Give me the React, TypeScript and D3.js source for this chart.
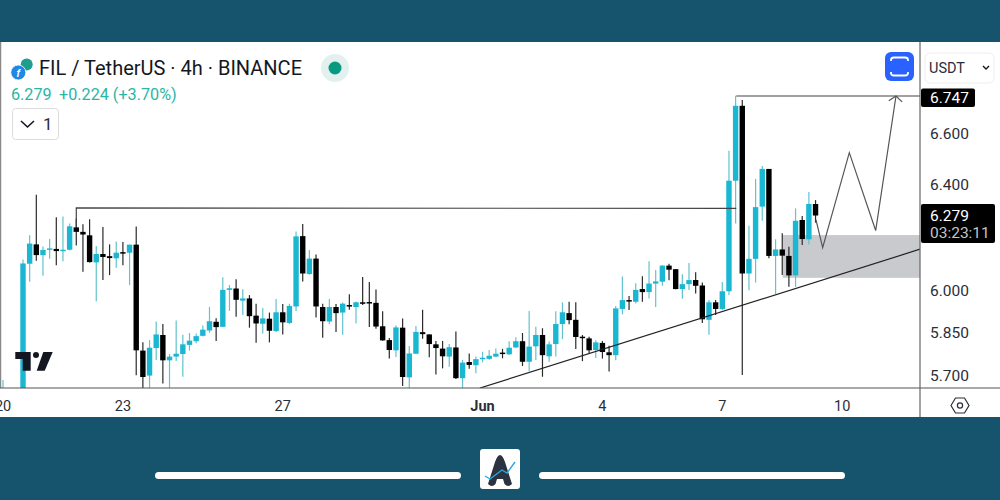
import React from "react";
import * as d3 from "d3";

const firstIndex = -3;
const opens = [5.6,5.6,5.61,
5.638,6.098,6.170,6.130,6.150,6.153,6.145,6.150,6.234,6.217,
6.204,6.103,6.134,6.126,6.118,6.141,6.139,6.169,5.785,5.698,
5.794,5.840,5.751,5.764,5.773,5.805,5.818,5.837,5.856,5.887,
5.869,6.002,6.007,5.963,5.971,5.909,5.880,5.898,5.854,5.921,
5.883,5.942,6.201,6.060,6.117,5.940,5.888,5.940,5.920,5.947,
5.940,5.957,5.958,5.955,5.871,5.822,5.786,5.866,5.692,5.774,
5.850,5.842,5.807,5.792,5.764,5.796,5.689,5.745,5.734,5.756,
5.756,5.764,5.778,5.772,5.796,5.818,5.746,5.800,5.840,5.765,
5.808,5.879,5.918,5.894,5.834,5.828,5.787,5.812,5.779,5.769,
5.933,5.965,5.959,6.005,5.994,6.025,6.032,6.091,6.078,6.005,
6.023,6.038,6.018,5.894,5.957,5.933,5.997,6.413,6.711,6.062,
6.116,6.313,6.459,6.127,6.151,6.127,6.055,6.262,6.189,6.323];
const closes = [5.615,5.61,5.6,
6.099,6.173,6.130,6.149,6.155,6.145,6.150,6.238,6.217,6.207,
6.104,6.134,6.123,6.119,6.139,6.139,6.169,5.786,5.693,5.795,
5.842,5.751,5.764,5.774,5.807,5.820,5.836,5.859,5.889,5.868,
6.002,6.008,5.966,5.971,5.907,5.881,5.899,5.855,5.921,5.885,
5.944,6.200,6.062,6.117,5.942,5.889,5.940,5.918,5.952,5.943,
5.957,5.953,5.956,5.870,5.821,5.787,5.867,5.693,5.775,5.851,
5.843,5.808,5.794,5.765,5.797,5.689,5.743,5.735,5.755,5.760,
5.767,5.774,5.774,5.795,5.818,5.746,5.799,5.840,5.769,5.807,
5.879,5.921,5.893,5.833,5.829,5.786,5.814,5.780,5.769,5.935,
5.965,5.963,6.002,5.994,6.025,6.033,6.091,6.076,6.005,6.023,
6.038,6.017,5.896,5.957,5.933,5.997,6.413,6.711,6.062,6.116,
6.311,6.459,6.127,6.151,6.128,6.055,6.259,6.190,6.323,6.279];
const highs = [5.683,5.62,5.62,
6.114,6.204,6.359,6.162,6.190,6.272,6.275,6.249,6.268,6.246,
6.265,6.164,6.235,6.170,6.181,6.179,6.169,6.237,5.814,5.822,
5.888,5.879,5.773,5.892,5.841,5.847,5.845,5.874,5.940,5.900,
6.048,6.020,6.041,6.004,5.983,5.952,5.936,5.920,5.969,5.951,
5.952,6.218,6.247,6.149,6.132,5.952,5.969,5.951,5.956,5.986,
5.960,6.049,6.031,6.003,5.925,5.829,5.875,5.899,5.801,5.872,
5.930,5.843,5.819,5.819,5.808,5.852,5.752,5.775,5.764,5.781,
5.787,5.792,5.791,5.818,5.832,5.847,5.926,5.869,5.864,5.817,
5.925,5.957,5.959,5.957,5.840,5.834,5.821,5.819,5.802,5.944,
6.051,5.980,6.026,6.052,6.107,6.075,6.093,6.098,6.078,6.059,
6.101,6.067,6.029,5.965,5.965,6.031,6.531,6.752,6.735,6.240,
6.420,6.470,6.459,6.189,6.212,6.161,6.306,6.277,6.369,6.338];
const lows = [5.58,5.58,5.58,
5.62,6.032,6.109,6.054,6.116,6.092,6.107,6.147,6.166,6.068,
6.103,5.961,6.038,6.056,6.083,6.092,6.020,5.699,5.637,5.637,
5.752,5.671,5.637,5.749,5.694,5.785,5.811,5.835,5.848,5.819,
5.868,5.926,5.905,5.911,5.866,5.813,5.845,5.814,5.851,5.842,
5.879,5.926,6.033,6.057,5.902,5.830,5.879,5.851,5.841,5.930,
5.881,5.947,5.868,5.862,5.820,5.757,5.763,5.662,5.648,5.773,
5.827,5.762,5.702,5.723,5.729,5.686,5.648,5.722,5.706,5.744,
5.753,5.762,5.758,5.770,5.794,5.731,5.713,5.752,5.694,5.746,
5.764,5.825,5.878,5.791,5.748,5.775,5.759,5.757,5.712,5.751,
5.914,5.929,5.953,5.959,5.971,5.940,6.017,6.037,6.004,5.970,
6.002,5.989,5.883,5.841,5.911,5.929,5.983,6.249,5.700,6.001,
6.029,6.259,6.118,5.987,6.056,6.013,6.013,6.168,6.170,6.252];

const priceTicks = [6.6, 6.4, 6.0, 5.85, 5.7];
const priceTickLabels = ["6.600", "6.400", "6.000", "5.850", "5.700"];
const timeTickIndex = [-3, 15, 39, 69, 87, 105, 123];
const timeTickLabels = ["20", "23", "27", "Jun", "4", "7", "10"];

const trendLine: [number, number][] = [[68.6, 5.655], [134.7, 6.152]];
const topLine: [number, number][] = [[107.1, 6.751], [134.7, 6.751]];
const resistance: [number, number][] = [[8, 6.235], [8, 6.308], [107.1, 6.306]];
const zigzag: [number, number][] = [[119.07, 6.262], [120.07, 6.158], [124.07, 6.523], [128.03, 6.222], [131.08, 6.751]];
const arrowHead: [number, number][] = [[130, 6.732], [131.08, 6.751], [132, 6.727]];
const zoneIdx = [114.07, 134.7];
const zonePrice = [6.205, 6.046];

const BAND = "#15546c";
const UP = "#1ab7d2";
const UPWICK = "#62c2cd";
const DOWN = "#000000";
const DOWNWICK = "#2a2a2a";
const FONT = "Roboto, sans-serif";

const x = d3.scaleLinear().domain([0, 100]).range([23, 689]);
const y = d3.scaleLog().domain([5.7, 6.747]).range([375, 97]);
const line = d3.line<[number, number]>().x((d) => x(d[0])).y((d) => y(d[1]));

export default function App() {
  return (
    <svg width={1000} height={500} style={{ position: "absolute", left: 0, top: 0, display: "block" }} fontFamily={FONT}>
      <defs>
        <clipPath id="plot"><rect x={1} y={42} width={919} height={346} /></clipPath>
      </defs>
      <rect width={1000} height={500} fill="#fff" />

      <g clipPath="url(#plot)">
        <rect x={x(zoneIdx[0])} width={x(zoneIdx[1]) - x(zoneIdx[0])} y={y(zonePrice[0])} height={y(zonePrice[1]) - y(zonePrice[0])} fill="#c9cacd" />
        {opens.map((o, k) => {
          const c = closes[k];
          const up = c >= o;
          const cx = x(k + firstIndex);
          const top = y(Math.max(o, c));
          const bot = y(Math.min(o, c));
          return (
            <g key={k}>
              <line x1={cx} x2={cx} y1={y(highs[k])} y2={y(lows[k])} stroke={up ? UPWICK : DOWNWICK} strokeWidth={1.2} />
              <rect x={cx - 2.7} width={5.4} y={top} height={Math.max(bot - top, 1.5)} fill={up ? UP : DOWN} />
            </g>
          );
        })}
        <path d={line(trendLine)!} fill="none" stroke="#222" strokeWidth={1.2} />
        <path d={line(topLine)!} fill="none" stroke="#444" strokeWidth={1.2} />
        <path d={line(resistance)!} fill="none" stroke="#444" strokeWidth={1.2} />
        <path d={line(zigzag)!} fill="none" stroke="#555" strokeWidth={1.2} />
        <path d={line(arrowHead)!} fill="none" stroke="#555" strokeWidth={1.2} />
      </g>

      <line x1={0.5} x2={0.5} y1={42} y2={388} stroke="#8a8a8a" strokeWidth={1.5} />
      <line x1={0} x2={1000} y1={388} y2={388} stroke="#555" strokeWidth={1.2} />
      <line x1={920} x2={920} y1={42} y2={417} stroke="#666" strokeWidth={1.2} />

      {priceTicks.map((t, i) => (
        <text key={t} x={930} y={y(t) + 5.5} fontSize={15.5} fill="#2a2e39">{priceTickLabels[i]}</text>
      ))}
      <rect x={921} y={88.5} width={54} height={18.5} rx={2} fill="#000" />
      <text x={930} y={102.5} fontSize={15.5} fill="#fff">6.747</text>
      <rect x={921} y={204} width={74} height={39} rx={2} fill="#000" />
      <text x={930} y={221} fontSize={15.5} fill="#fff">6.279</text>
      <text x={930} y={238} fontSize={15.5} fill="#c4c4c4">03:23:11</text>

      {timeTickIndex.map((t, i) => (
        <text key={t} x={x(t)} y={411} fontSize={14.5} textAnchor="middle" fill="#2a2e39" fontWeight={timeTickLabels[i] === "Jun" ? 700 : 400}>{timeTickLabels[i]}</text>
      ))}
      <path d="M951 405.5 L955.5 398 H964.5 L969 405.5 L964.5 413 H955.5 Z" fill="none" stroke="#2a2e39" strokeWidth={1.2} />
      <circle cx={960} cy={405.5} r={2.6} fill="none" stroke="#2a2e39" strokeWidth={1.2} />

      <circle cx={26.7} cy={64.5} r={6} fill="#1f9d8f" />
      <circle cx={18.3} cy={72.5} r={7.5} fill="#1e88e5" stroke="#fff" strokeWidth={0.8} />
      <text x={18.3} y={76.5} fontSize={10} fontStyle="italic" fontWeight={700} textAnchor="middle" fill="#fff">f</text>
      <text x={39} y={75} fontSize={20} fill="#131722">FIL / TetherUS · 4h · BINANCE</text>
      <circle cx={335} cy={68} r={14} fill="#e2f1ef" />
      <circle cx={335} cy={68} r={6.5} fill="#089981" />
      <text x={11} y={100} fontSize={16.2} fill="#2cb5a5">6.279</text>
      <text x={59} y={100} fontSize={16.2} fill="#2cb5a5">+0.224 (+3.70%)</text>
      <rect x={12.5} y={108.5} width={46} height={31} rx={3} fill="#fff" stroke="#dcdcdc" strokeWidth={1} />
      <path d="M21 121 L27.5 127 L34 121" fill="none" stroke="#131722" strokeWidth={1.6} />
      <text x={43} y={130} fontSize={17} fill="#2a2e39">1</text>

      <rect x={885} y={52} width={29} height={29} rx={6} fill="#2962ff" />
      <path d="M891 61 V60 Q891 57.5 894 57.5 H905 Q908 57.5 908 60 V61 M891 72 V73 Q891 75.5 894 75.5 H905 Q908 75.5 908 73 V72" fill="none" stroke="#fff" strokeWidth={1.8} />

      <rect x={925} y={53} width={69} height={30} rx={5} fill="#fff" stroke="#eeeeee" />
      <text x={929} y={73} fontSize={14.5} fill="#2a2e39">USDT</text>
      <path d="M983 66 L986 69 L989 66" fill="none" stroke="#131722" strokeWidth={1.4} />

      <path d="M15.3 352 H30.7 V370.7 H22.7 V359 H15.3 Z" fill="#131722" />
      <circle cx={36} cy={355} r={3} fill="#131722" />
      <path d="M43.3 352 H52.7 L44.7 370.7 H36.7 Z" fill="#131722" />

      <rect x={0} y={0} width={1000} height={42} fill={BAND} />
      <rect x={0} y={417} width={1000} height={83} fill={BAND} />
      <rect x={155} y={472} width={306} height={7} rx={3.5} fill="#fff" />
      <rect x={539} y={472} width={306} height={7} rx={3.5} fill="#fff" />
      <rect x={480} y={449} width={40} height={40} rx={3} fill="#fff" />
      <path d="M495 462 Q500 448 505 462 L512 484 Q508 488 504.5 484 L503 479 H497 L495.5 484 Q492 488 488 484 Z" fill="#2c3340" />
      <path d="M485 476 L490 479 L502 470 L507 473 L515 462" fill="none" stroke="#2aa7df" strokeWidth={1.4} />
    </svg>
  );
}
